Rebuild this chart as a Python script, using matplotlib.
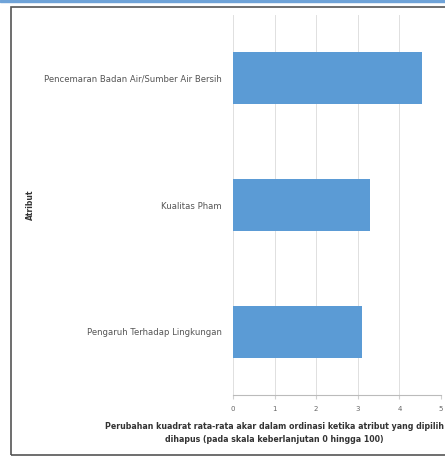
import matplotlib.pyplot as plt
from matplotlib.patches import Rectangle

# data
categories = ['Pengaruh Terhadap Lingkungan', 'Kualitas Pham',
              'Pencemaran Badan Air/Sumber Air Bersih']
values = [3.1, 3.29, 4.54]
xticks = [0, 1, 2, 3, 4, 5]

fig = plt.figure(figsize=(4.45, 4.59), dpi=100)

# outer frame and blue top strip
fig.patches.append(Rectangle((0, 0.995), 1, 0.005, transform=fig.transFigure,
                             color='#6fa3d8', zorder=0))
fig.patches.append(Rectangle((11 / 445, 4 / 459), 1.2, 448 / 459, transform=fig.transFigure,
                             fill=False, edgecolor='#555555', linewidth=1.2, zorder=0))

ax = fig.add_axes([233 / 445, 1 - 395 / 459, 208 / 445, 380 / 459])
ax.barh(range(len(categories)), values, height=0.41, color='#5b9bd5', zorder=3)

ax.set_xlim(0, 5)
ax.set_ylim(-0.5, 2.5)
ax.set_xticks(xticks)
ax.set_xticklabels([str(t) for t in xticks], fontsize=5, color='#666666')
ax.set_yticks(range(len(categories)))
ax.set_yticklabels(categories, fontsize=6.1, color='#555555')
ax.tick_params(axis='y', length=0, pad=8)
ax.tick_params(axis='x', length=3, color='#d0d0d0', pad=5)
ax.xaxis.grid(True, color='#e0e0e0', linewidth=0.7, zorder=0)

for s in ['top', 'right', 'left']:
    ax.spines[s].set_visible(False)
ax.spines['bottom'].set_color('#bbbbbb')

ax.set_xlabel('Perubahan kuadrat rata-rata akar dalam ordinasi ketika atribut yang dipilih\n'
              'dihapus (pada skala keberlanjutan 0 hingga 100)',
              fontsize=5.7, fontweight='bold', color='#333333', linespacing=1.45)
ax.xaxis.set_label_coords(0.2, -0.072)
fig.text(30 / 445, 1 - 205 / 459, 'Atribut', rotation=90, fontsize=5.5,
         fontweight='bold', color='#333333', ha='center', va='center')

fig.savefig('out.png', dpi=100)
